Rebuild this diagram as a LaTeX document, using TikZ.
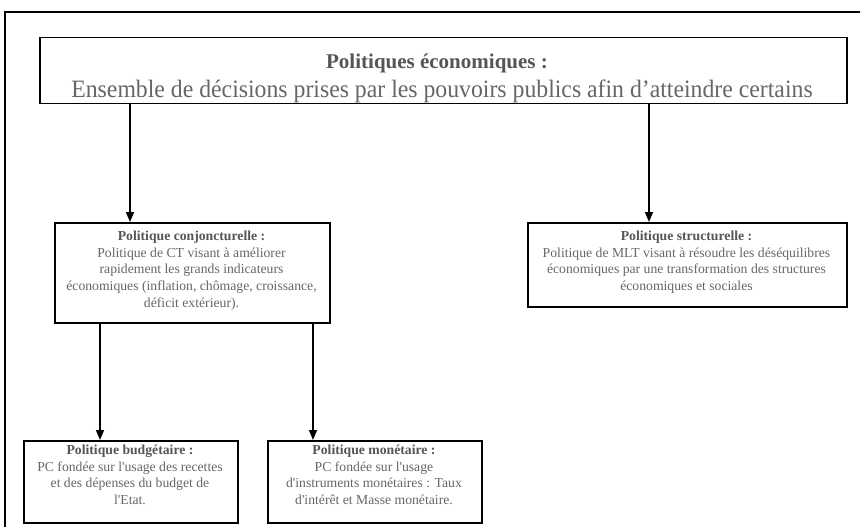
\documentclass[tikz,border=0pt]{standalone}
\usepackage{fontspec}
\setmainfont{Liberation Serif}
\usetikzlibrary{arrows.meta}
\definecolor{txt}{HTML}{666666}
\definecolor{hd}{HTML}{555555}
\begin{document}
\begin{tikzpicture}[x=1pt,y=-1pt,
  box/.style={draw=black, line width=1.5pt, inner sep=0pt, anchor=north west},
  arr/.style={line width=1.5pt, -{Triangle[length=10pt,width=8pt]}},
  body/.style={font=\fontsize{13.7}{16.6}\selectfont, text=txt, align=center, inner sep=0pt, anchor=north},
  head/.style={text=hd}
]
\useasboundingbox (0,0) rectangle (860,527);
% outer frame (cropped on right and bottom)
\draw[line width=1.5pt] (5,12) rectangle (900,560);

% title box
\node[box, minimum width=807pt, minimum height=66pt] (title) at (39,37) {};
\begin{scope}
  \clip (39.75,37.75) rectangle (845.25,102.25);
  \node[font=\fontsize{21}{24}\selectfont\bfseries, text=hd, anchor=base, inner sep=0pt] (t1) at (437,69) {Politiques économiques :};
  \node[font=\fontsize{25}{28}\selectfont, text=txt, anchor=base, inner sep=0pt] (t2) at (442,97.5) {\scalebox{0.95}[1]{Ensemble de décisions prises par les pouvoirs publics afin d’atteindre certains}};
\end{scope}

% second level
\node[box, minimum width=275pt, minimum height=100pt] (conj) at (54,222) {};
\node[body] (conjt) at (191.5,231) {{\color{hd}\bfseries Politique conjoncturelle :}\\Politique de CT visant à améliorer\\rapidement les grands indicateurs\\économiques (inflation, chômage, croissance,\\déficit extérieur).};

\node[box, minimum width=319pt, minimum height=84pt] (struct) at (527,222) {};
\node[body] (structt) at (686.5,231) {{\color{hd}\bfseries Politique structurelle :}\\Politique de MLT visant à résoudre les déséquilibres\\économiques par une transformation des structures\\économiques et sociales};

% third level
\node[box, minimum width=214pt, minimum height=82pt] (budg) at (23,440) {};
\node[body] (budgt) at (130,445) {{\color{hd}\bfseries Politique budgétaire :}\\PC fondée sur l\textquotesingle usage des recettes\\et des dépenses du budget de\\l\textquotesingle Etat.};

\node[box, minimum width=214pt, minimum height=82pt] (mon) at (267,440) {};
\node[body] (mont) at (374,445) {{\color{hd}\bfseries Politique monétaire :}\\PC fondée sur l\textquotesingle usage\\d\textquotesingle instruments monétaires : Taux\\d\textquotesingle intérêt et Masse monétaire.};

% connectors
\coordinate (xa) at (130,0);
\coordinate (xb) at (649,0);
\coordinate (xc) at (100,0);
\coordinate (xd) at (313,0);
\draw[arr] (title.south -| xa) -- (conj.north -| xa);
\draw[arr] (title.south -| xb) -- (struct.north -| xb);
\draw[arr] (conj.south -| xc) -- (budg.north -| xc);
\draw[arr] (conj.south -| xd) -- (mon.north -| xd);
\end{tikzpicture}
\end{document}
